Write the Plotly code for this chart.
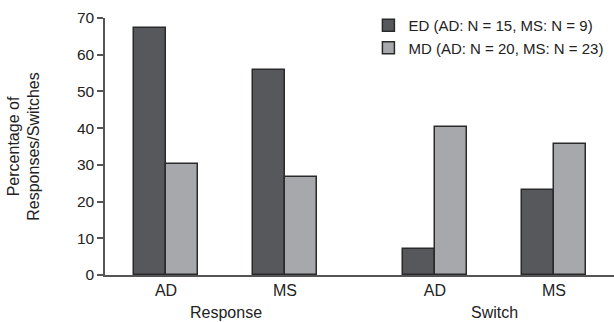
import plotly.graph_objects as go

# Data
groups = ["Response", "Response", "Switch", "Switch"]
tick_labels = ["AD", "MS", "AD", "MS"]
ed_values = [67.3, 55.8, 7.0, 23.1]
md_values = [30.2, 26.6, 40.4, 35.6]
ed_name = "ED (AD: N = 15, MS: N = 9)"
md_name = "MD (AD: N = 20, MS: N = 23)"

# Layout positions (category centres on a numeric axis, wider gap between groups)
x_pos = [0, 1, 2.26, 3.26]
bar_w = 0.269

font = "Liberation Sans, Arial, sans-serif"

fig = go.Figure()
fig.add_trace(go.Bar(x=x_pos, y=ed_values, name=ed_name, width=bar_w, offset=-bar_w,
                     marker=dict(color="#57585c", line=dict(color="#2a2a2a", width=1.5))))
fig.add_trace(go.Bar(x=x_pos, y=md_values, name=md_name, width=bar_w, offset=0,
                     marker=dict(color="#a7a8ab", line=dict(color="#2a2a2a", width=1.5))))

fig.update_layout(
    width=614, height=322,
    margin=dict(l=105, r=0, t=18, b=47, autoexpand=False),
    paper_bgcolor="white", plot_bgcolor="white",
    font=dict(family=font, size=14, color="#222222"),
    showlegend=True,
    legend=dict(x=0.5175, y=1.035, xanchor="left", yanchor="top",
                font=dict(size=15, color="#222222"), bgcolor="rgba(0,0,0,0)",
                itemwidth=30, tracegroupgap=0),
    bargap=0,
)
fig.update_xaxes(range=[-0.513, 3.765], tickmode="array", tickvals=x_pos,
                 ticktext=tick_labels, showline=True, linecolor="#555555", linewidth=1.5,
                 ticks="", showgrid=False, zeroline=False, tickfont=dict(size=16),
                 automargin=False)
fig.update_yaxes(range=[0, 70], dtick=10, showline=True, linecolor="#555555", linewidth=1.5,
                 ticks="outside", ticklen=6, tickcolor="#555555", tickwidth=1.5,
                 showgrid=False, zeroline=False, tickfont=dict(size=15.5), automargin=False,
                 title=dict(text="Percentage of<br>Responses/Switches", font=dict(size=16), standoff=33))

# Group labels
for name, xs in [("Response", x_pos[0:2]), ("Switch", x_pos[2:4])]:
    fig.add_annotation(x=sum(xs) / 2, xref="x", y=0, yref="paper", yshift=-27,
                       text=name, showarrow=False, yanchor="top",
                       font=dict(size=16, color="#222222"))

fig.write_html("out.html", config={"displayModeBar": False},
               post_script="document.body.style.margin='0';")
